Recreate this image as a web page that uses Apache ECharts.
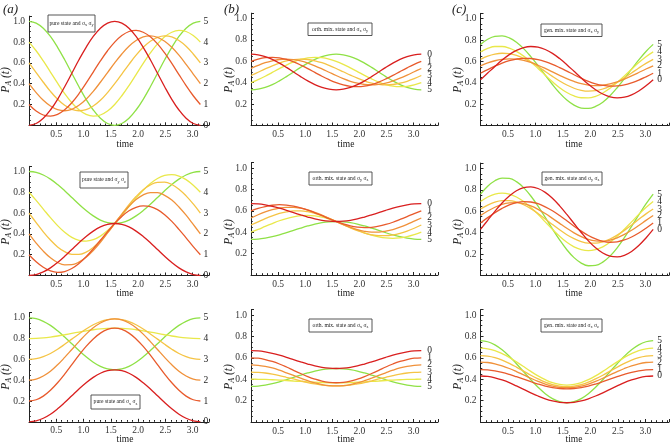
<!DOCTYPE html>
<html><head><meta charset="utf-8">
<script src="https://cdn.jsdelivr.net/npm/echarts@6/dist/echarts.min.js"></script>
<style>html,body{margin:0;padding:0;background:#fff}#c{width:672px;height:444px}</style>
</head><body><div id="c"></div>
<script>
// ---------- data ----------
const tVals = [0, .131, .262, .393, .524, .654, .785, .916, 1.047, 1.178, 1.309, 1.44, 1.571,
  1.702, 1.833, 1.963, 2.094, 2.225, 2.356, 2.487, 2.618, 2.749, 2.88, 3.011, 3.142];
const curveLabels = ['0', '1', '2', '3', '4', '5'];
const xTickLabels = ['0.5', '1.0', '1.5', '2.0', '2.5', '3.0'];
const yTickLabels = ['0.2', '0.4', '0.6', '0.8', '1.0'];
const panelLetters = ['(a)', '(b)', '(c)'];
const boxTitles = ['pure state and ', 'orth. mix. state and ', 'gen. mix. state and '];
const boxOps = [['x', 'y'], ['y', 'z'], ['x', 'z']];

// (a) pure state
const pureXY = [
  [0, .017, .067, .147, .25, .371, .5, .63, .75, .854, .933, .983, 1, .983, .933, .854, .75, .63, .5, .371, .25, .147, .067, .017, 0],
  [.2, .137, .099, .088, .105, .149, .217, .304, .405, .512, .619, .717, .8, .863, .902, .912, .895, .851, .783, .696, .595, .488, .382, .284, .2],
  [.4, .314, .24, .185, .15, .14, .154, .192, .25, .326, .414, .507, .6, .686, .76, .815, .85, .86, .846, .808, .75, .674, .586, .493, .4],
  [.6, .507, .414, .326, .25, .192, .154, .14, .15, .185, .24, .314, .4, .493, .586, .674, .75, .808, .846, .86, .85, .815, .76, .686, .6],
  [.8, .717, .619, .512, .405, .304, .217, .149, .105, .088, .099, .137, .2, .284, .382, .488, .595, .696, .783, .851, .895, .912, .902, .863, .8],
  [1, .983, .933, .854, .75, .63, .5, .371, .25, .147, .067, .017, 0, .017, .067, .147, .25, .371, .5, .63, .75, .854, .933, .983, 1]
];
const pureYZ = [
  [0, .009, .034, .073, .125, .185, .25, .315, .375, .427, .467, .492, .5, .492, .467, .427, .375, .315, .25, .185, .125, .073, .034, .009, 0],
  [.2, .132, .079, .044, .03, .038, .067, .116, .18, .256, .339, .422, .5, .568, .622, .656, .67, .662, .633, .585, .52, .444, .362, .278, .2],
  [.4, .312, .234, .17, .125, .103, .104, .129, .175, .241, .32, .409, .5, .588, .666, .73, .775, .797, .796, .771, .725, .659, .58, .491, .4],
  [.6, .509, .42, .341, .275, .229, .204, .203, .225, .27, .334, .412, .5, .591, .68, .759, .825, .871, .896, .897, .875, .83, .766, .688, .6],
  [.8, .722, .639, .556, .48, .416, .367, .338, .33, .344, .379, .432, .5, .578, .662, .744, .82, .885, .933, .962, .97, .956, .922, .868, .8],
  [1, .992, .966, .927, .875, .815, .75, .685, .625, .573, .533, .508, .5, .508, .533, .573, .625, .685, .75, .815, .875, .927, .966, .992, 1]
];
const pureXZ = [
  [0, .009, .034, .073, .125, .185, .25, .315, .375, .427, .467, .492, .5, .492, .467, .427, .375, .315, .25, .185, .125, .073, .034, .009, 0],
  [.2, .212, .247, .303, .375, .459, .55, .641, .725, .797, .853, .888, .9, .888, .853, .797, .725, .641, .55, .459, .375, .303, .247, .212, .2],
  [.4, .41, .44, .486, .548, .619, .695, .771, .843, .904, .95, .98, .99, .98, .95, .904, .843, .771, .695, .619, .548, .486, .44, .41, .4],
  [.6, .607, .626, .657, .698, .745, .795, .845, .893, .933, .964, .983, .99, .983, .964, .933, .893, .845, .795, .745, .698, .657, .626, .607, .6],
  [.8, .802, .807, .815, .825, .837, .85, .863, .875, .885, .893, .898, .9, .898, .893, .885, .875, .863, .85, .837, .825, .815, .807, .802, .8],
  [1, .992, .966, .927, .875, .815, .75, .685, .625, .573, .533, .508, .5, .508, .533, .573, .625, .685, .75, .815, .875, .927, .966, .992, 1]
];
// (b) orthogonal mixed state
const orthXY = [
  [.667, .661, .644, .618, .583, .543, .5, .457, .417, .382, .356, .339, .333, .339, .356, .382, .417, .457, .5, .543, .583, .618, .644, .661, .667],
  [.6, .621, .634, .637, .632, .617, .594, .565, .532, .496, .46, .428, .4, .379, .366, .363, .368, .383, .406, .435, .468, .504, .539, .572, .6],
  [.533, .562, .587, .605, .617, .62, .615, .603, .583, .558, .529, .498, .467, .438, .413, .395, .383, .38, .385, .397, .417, .442, .471, .502, .533],
  [.467, .498, .529, .558, .583, .603, .615, .62, .617, .605, .587, .562, .533, .502, .471, .442, .417, .397, .385, .38, .383, .395, .413, .438, .467],
  [.4, .428, .46, .496, .532, .565, .594, .617, .632, .637, .634, .621, .6, .572, .539, .504, .468, .435, .406, .383, .368, .363, .366, .379, .4],
  [.333, .339, .356, .382, .417, .457, .5, .543, .583, .618, .644, .661, .667, .661, .644, .618, .583, .543, .5, .457, .417, .382, .356, .339, .333]
];
const orthYZ = [
  [.667, .664, .655, .642, .625, .605, .583, .562, .542, .524, .511, .503, .5, .503, .511, .524, .542, .562, .583, .605, .625, .642, .655, .664, .667],
  [.6, .623, .64, .652, .657, .654, .644, .628, .607, .581, .554, .526, .5, .477, .459, .448, .443, .446, .456, .472, .493, .519, .546, .574, .6],
  [.533, .563, .589, .61, .625, .632, .632, .624, .608, .586, .56, .53, .5, .471, .445, .423, .408, .401, .401, .41, .425, .447, .473, .503, .533],
  [.467, .497, .527, .553, .575, .59, .599, .599, .592, .577, .555, .529, .5, .47, .44, .414, .392, .376, .368, .368, .375, .39, .411, .437, .467],
  [.4, .426, .454, .481, .507, .528, .544, .554, .557, .552, .54, .523, .5, .474, .446, .419, .393, .372, .356, .346, .343, .348, .359, .377, .4],
  [.333, .336, .345, .358, .375, .395, .417, .438, .458, .476, .489, .497, .5, .497, .489, .476, .458, .438, .417, .395, .375, .358, .345, .336, .333]
];
const orthXZ = [
  [.667, .664, .655, .642, .625, .605, .583, .562, .542, .524, .511, .503, .5, .503, .511, .524, .542, .562, .583, .605, .625, .642, .655, .664, .667],
  [.6, .596, .584, .566, .542, .514, .483, .453, .425, .401, .382, .371, .367, .371, .382, .401, .425, .453, .483, .514, .542, .566, .584, .596, .6],
  [.533, .53, .52, .505, .484, .46, .435, .41, .386, .365, .35, .34, .337, .34, .35, .365, .386, .41, .435, .46, .484, .505, .52, .53, .533],
  [.467, .464, .458, .448, .434, .418, .402, .385, .369, .356, .345, .339, .337, .339, .345, .356, .369, .385, .402, .418, .434, .448, .458, .464, .467],
  [.4, .399, .398, .395, .392, .388, .383, .379, .375, .372, .369, .367, .367, .367, .369, .372, .375, .379, .383, .388, .392, .395, .398, .399, .4],
  [.333, .336, .345, .358, .375, .395, .417, .438, .458, .476, .489, .497, .5, .497, .489, .476, .458, .438, .417, .395, .375, .358, .345, .336, .333]
];
// (c) general mixed state
const genXY = [
  [.43, .492, .554, .613, .664, .704, .73, .74, .734, .712, .676, .627, .57, .508, .446, .387, .336, .296, .27, .26, .266, .288, .324, .373, .43],
  [.49, .524, .556, .585, .608, .623, .63, .628, .618, .599, .574, .543, .51, .476, .444, .415, .392, .377, .37, .372, .382, .401, .426, .457, .49],
  [.56, .587, .607, .62, .625, .622, .61, .591, .565, .535, .503, .471, .44, .414, .393, .38, .375, .378, .39, .409, .435, .465, .497, .53, .56],
  [.62, .65, .669, .677, .673, .657, .63, .595, .553, .507, .461, .418, .38, .35, .331, .323, .327, .343, .37, .406, .447, .493, .539, .582, .62],
  [.69, .722, .74, .74, .725, .694, .65, .596, .535, .472, .411, .355, .31, .278, .261, .26, .275, .306, .35, .404, .465, .528, .59, .645, .69],
  [.76, .808, .835, .839, .821, .78, .72, .645, .561, .472, .385, .306, .24, .192, .165, .161, .18, .22, .28, .355, .44, .528, .615, .694, .76]
];
const genYZ = [
  [.43, .515, .599, .677, .742, .791, .82, .827, .812, .776, .721, .65, .57, .485, .401, .323, .258, .209, .18, .173, .188, .224, .279, .35, .43],
  [.49, .54, .586, .627, .66, .681, .69, .686, .67, .641, .604, .559, .51, .46, .414, .373, .341, .319, .31, .314, .331, .359, .396, .441, .49],
  [.56, .602, .637, .663, .677, .68, .67, .649, .617, .578, .533, .486, .44, .398, .363, .337, .323, .32, .33, .351, .383, .422, .467, .514, .56],
  [.62, .657, .684, .698, .699, .686, .66, .624, .579, .528, .476, .426, .38, .343, .316, .302, .301, .314, .34, .377, .421, .472, .524, .575, .62],
  [.69, .733, .76, .769, .76, .733, .69, .634, .57, .5, .431, .366, .31, .267, .241, .231, .241, .267, .31, .366, .431, .5, .57, .634, .69],
  [.76, .834, .885, .91, .907, .876, .82, .742, .647, .542, .435, .332, .24, .166, .115, .09, .093, .124, .18, .258, .353, .458, .565, .668, .76]
];
const genXZ = [
  [.43, .426, .413, .393, .368, .337, .305, .273, .243, .217, .197, .184, .18, .184, .197, .217, .243, .273, .305, .337, .368, .393, .413, .426, .43],
  [.49, .487, .478, .464, .445, .423, .4, .377, .355, .336, .322, .313, .31, .313, .322, .336, .355, .377, .4, .423, .445, .464, .478, .487, .49],
  [.56, .556, .544, .525, .5, .471, .44, .409, .38, .355, .336, .324, .32, .324, .336, .355, .38, .409, .44, .471, .5, .525, .544, .556, .56],
  [.62, .615, .601, .578, .548, .513, .475, .437, .403, .372, .349, .335, .33, .335, .349, .372, .403, .437, .475, .513, .548, .578, .601, .615, .62],
  [.69, .684, .667, .639, .604, .562, .518, .473, .431, .396, .368, .351, .345, .351, .368, .396, .431, .473, .518, .562, .604, .639, .667, .684, .69],
  [.76, .75, .721, .675, .615, .545, .47, .395, .325, .265, .219, .19, .18, .19, .219, .265, .325, .395, .47, .545, .615, .675, .721, .75, .76]
];

// ---------- styles / layout ----------
const curveColors = ['#d91f1f', '#e85a2c', '#f0913a', '#f5c445', '#e9e84a', '#8fe146'];
const serif = '"Liberation Serif","Times New Roman",serif';
const columns = [[pureXY, pureYZ, pureXZ], [orthXY, orthYZ, orthXZ], [genXY, genYZ, genXZ]];
const colLeft = [29, 251, 480.5], colWidth = [180, 187, 190.5], colXMax = [3.3, 3.45, 3.43];
const colUnit = [104, 107, 107];
const rowBase = [[125.3, 275.5, 421.8], [125.5, 275, 422], [125.7, 275.4, 422]];
const Y_MAX = 1.05;
const endDist = [3, 6, 4];
const yLabelX = [6, 229, 458], yLabelY = [80, 232, 377];
const timeX = [125, 346, 574], timeY = [144, 293, 439];
const letterX = [3, 224, 452];
const boxes = [
  [[48, 15, 47, 17], [80, 172, 48, 16], [91, 395, 49, 14]],
  [[308, 23, 64, 12.5], [309, 172, 63, 13], [309, 319, 63, 13]],
  [[541, 24, 61, 12.5], [542, 172, 60, 13], [541, 319, 61, 13]]
];

function tickFmt(labels, step) {
  return function (v) {
    const i = Math.round(v / step) - 1;
    if (i >= 0 && i < labels.length && Math.abs(v - step * (i + 1)) < 1e-6) return labels[i];
    return '';
  };
}

const grids = [], xAxes = [], yAxes = [], series = [], graphics = [];
for (let c = 0; c < 3; c++) {
  for (let r = 0; r < 3; r++) {
    const idx = c * 3 + r;
    const h = Y_MAX * colUnit[c];
    grids.push({ left: colLeft[c], top: rowBase[c][r] - h, width: colWidth[c], height: h });
    const axLine = { lineStyle: { color: '#222', width: 1 } };
    xAxes.push({
      gridIndex: idx, type: 'value', min: 0, max: colXMax[c], interval: 0.5,
      axisLine: Object.assign({ onZero: true }, axLine),
      axisTick: { inside: true, length: 3, lineStyle: { color: '#222' } },
      minorTick: { show: true, splitNumber: 5, length: 1.8, lineStyle: { color: '#222' } },
      axisLabel: { formatter: tickFmt(xTickLabels, 0.5), fontFamily: serif, fontSize: 9.5, color: '#333', margin: 4 },
      splitLine: { show: false }, minorSplitLine: { show: false }
    });
    yAxes.push({
      gridIndex: idx, type: 'value', min: 0, max: Y_MAX, interval: 0.2,
      axisLine: Object.assign({ show: true, onZero: true }, axLine),
      axisTick: { show: true, inside: true, length: 3, lineStyle: { color: '#222' } },
      minorTick: { show: true, splitNumber: 4, length: 1.8, lineStyle: { color: '#222' } },
      axisLabel: { formatter: tickFmt(yTickLabels, 0.2), fontFamily: serif, fontSize: 9.5, color: '#333', margin: 4 },
      splitLine: { show: false }, minorSplitLine: { show: false }
    });
    const panel = columns[c][r];
    for (let k = 0; k < panel.length; k++) {
      series.push({
        type: 'line', xAxisIndex: idx, yAxisIndex: idx,
        data: tVals.map((t, i) => [t, panel[k][i]]),
        smooth: 0.4, showSymbol: false, symbol: 'none', silent: true,
        lineStyle: { color: curveColors[k], width: 1.3 },
        itemStyle: { color: curveColors[k] },
        z: 2 + (5 - k),
        endLabel: {
          show: true, formatter: () => curveLabels[k], distance: endDist[c],
          fontFamily: serif, fontSize: 9.5, color: '#222'
        }
      });
    }
    const b = boxes[c][r];
    graphics.push({
      type: 'rect', z: 100, shape: { x: b[0], y: b[1], width: b[2], height: b[3] },
      style: { fill: '#fff', stroke: '#444', lineWidth: 0.9 }
    });
    const ops = boxOps[r];
    graphics.push({
      type: 'text', z: 101, x: b[0] + b[2] / 2, y: b[1] + b[3] / 2,
      style: {
        text: '{n|' + boxTitles[c] + 'σ}{s|' + ops[0] + '}{n| σ}{s|' + ops[1] + '}',
        align: 'center', verticalAlign: 'middle',
        rich: {
          n: { fontFamily: serif, fontSize: 5.6, fill: '#222', lineHeight: 7 },
          s: { fontFamily: serif, fontSize: 4.2, fill: '#222', verticalAlign: 'bottom', lineHeight: 5 }
        }
      }
    });
    graphics.push({
      type: 'text', z: 101, x: yLabelX[c], y: yLabelY[r], rotation: Math.PI / 2,
      style: {
        text: '{i|P}{s|A}{i| (t)}', align: 'center', verticalAlign: 'middle',
        rich: {
          i: { fontFamily: serif, fontStyle: 'italic', fontSize: 11.5, fill: '#222', lineHeight: 13 },
          s: { fontFamily: serif, fontStyle: 'italic', fontSize: 8, fill: '#222', verticalAlign: 'bottom', lineHeight: 9 }
        }
      }
    });
    graphics.push({
      type: 'text', z: 101, x: timeX[c], y: timeY[r],
      style: { text: 'time', align: 'center', verticalAlign: 'middle', fontFamily: serif, fontSize: 9.5, fill: '#222' }
    });
  }
  graphics.push({
    type: 'text', z: 101, x: letterX[c], y: 3,
    style: { text: panelLetters[c], fontFamily: serif, fontStyle: 'italic', fontSize: 13, fill: '#222' }
  });
}

const chart = echarts.init(document.getElementById('c'), null, { renderer: 'canvas' });
chart.setOption({
  animation: false,
  backgroundColor: '#fff',
  grid: grids, xAxis: xAxes, yAxis: yAxes, series: series, graphic: graphics
});
</script>
</body></html>
